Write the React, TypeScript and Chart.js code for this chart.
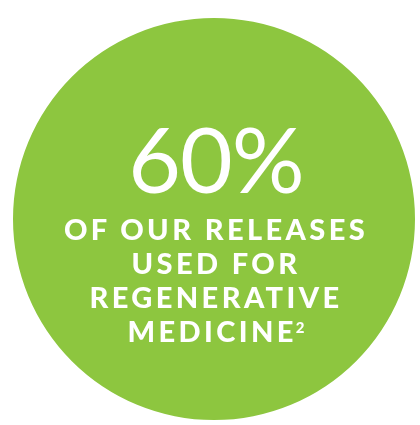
import React, { useEffect, useRef } from "react";
import { Chart, registerables } from "chart.js";

Chart.register(...registerables);

const categories = ["Regenerative medicine share"];
const seriesValues = [100];
const headline = "60%";
const captionLines = ["OF OUR RELEASES", "USED FOR", "REGENERATIVE", "MEDICINE"];
const footnoteMark = "2";

const GREEN = "#8DC63F";

export default function App() {
  const ref = useRef<HTMLCanvasElement | null>(null);

  useEffect(() => {
    if (!ref.current) return;
    const chart = new Chart(ref.current, {
      type: "pie",
      data: {
        labels: categories,
        datasets: [
          {
            data: seriesValues,
            backgroundColor: [GREEN],
            borderWidth: 0,
          },
        ],
      },
      options: {
        responsive: false,
        animation: false,
        layout: { padding: { left: 13, right: 5, top: 18, bottom: 5 } },
        plugins: {
          legend: { display: false },
          tooltip: { enabled: false },
          title: { display: false },
        },
      },
    });
    return () => chart.destroy();
  }, []);

  const baseText: React.CSSProperties = {
    position: "absolute",
    left: 16,
    width: 400,
    textAlign: "center",
    color: "#ffffff",
    fontFamily: "Lato, 'Open Sans', sans-serif",
    whiteSpace: "nowrap",
  };

  const lineTops = [214, 248, 282, 316];

  return (
    <div
      style={{
        position: "fixed",
        left: 0,
        top: 0,
        width: 420,
        height: 425,
        background: "#ffffff",
        overflow: "hidden",
      }}
    >
      <canvas ref={ref} width={420} height={425} style={{ display: "block" }} />
      <div
        style={{
          ...baseText,
          top: 112,
          fontSize: 91,
          lineHeight: "91px",
          fontWeight: 400,
          letterSpacing: -1,
        }}
      >
        {headline}
      </div>
      {captionLines.map((t, i) => (
        <div
          key={i}
          style={{
            ...baseText,
            top: lineTops[i],
            fontSize: 29,
            lineHeight: "29px",
            fontWeight: 900,
            letterSpacing: 3.4,
          }}
        >
          {t}
          {i === captionLines.length - 1 ? (
            <span style={{ fontSize: 15, position: "relative", top: -9, marginLeft: -1, letterSpacing: 0 }}>
              {footnoteMark}
            </span>
          ) : null}
        </div>
      ))}
    </div>
  );
}
